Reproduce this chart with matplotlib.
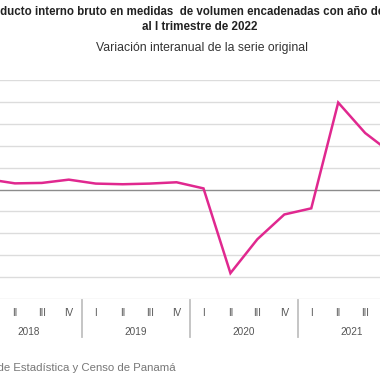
import matplotlib
matplotlib.use("Agg")
import matplotlib.pyplot as plt

plt.rcParams['font.family'] = ['Liberation Sans', 'DejaVu Sans']

# trimestres 2018 I ... 2022 I
quarters = ["I", "II", "III", "IV"] * 4 + ["I"]
years = ["2018", "2019", "2020", "2021", "2022"]
variacion = [4.7, 2.8, 3.0, 4.5, 2.7, 2.4, 2.7, 3.3, 0.5,
             -38.2, -22.7, -11.4, -8.6, 39.7, 25.8, 16.4, 13.0]
y_ticks = [-50, -40, -30, -20, -10, 0, 10, 20, 30, 40, 50]

W, H = 380, 380
fig = plt.figure(figsize=(W / 100, H / 100), dpi=100)

# plot area is wider than the picture (the reference is a crop)
left, right, top, bottom = -25.5, 432.5, 80, 299
ax = fig.add_axes([left / W, 1 - bottom / H, (right - left) / W, (bottom - top) / H])

x = list(range(len(variacion)))
ax.set_xlim(-0.5, len(variacion) - 0.5)
ax.set_ylim(-50, 50)
for t in y_ticks:
    if t == 0:
        ax.axhline(t, color="#8c8c8c", lw=1.0, zorder=2)
    else:
        ax.axhline(t, color="#dcdcdc", lw=1.0, zorder=1)
ax.plot(x, variacion, color="#e0288f", lw=1.8, zorder=3, solid_joinstyle="miter")

for s in ax.spines.values():
    s.set_visible(False)
ax.set_xticks([])
ax.set_yticks([])

tr = ax.get_xaxis_transform()
for i, q in enumerate(quarters):
    ax.text(i, -0.064, q, transform=tr, ha="center", va="center",
            fontsize=7, color="#555555", clip_on=False)
for k, yr in enumerate(years):
    start = k * 4
    end = min(start + 3, len(variacion) - 1)
    ax.text((start + end) / 2, -0.151, yr, transform=tr, ha="center", va="center",
            fontsize=7.2, color="#555555", clip_on=False)
    if k > 0:
        ax.plot([start - 0.5, start - 0.5], [-0.005, -0.174], transform=tr,
                color="#c0c0c0", lw=1.3, clip_on=False)

fig.text(-19 / W, 1 - 12 / H,
         "Producto interno bruto en medidas  de volumen encadenadas con año de referencia 2007",
         ha="left", va="center", fontsize=8.3, fontweight="bold", color="#222222")
fig.text(200 / W, 1 - 27 / H, "al I trimestre de 2022",
         ha="center", va="center", fontsize=8.4, fontweight="bold", color="#222222")
fig.text(202 / W, 1 - 48 / H, "Variación interanual de la serie original",
         ha="center", va="center", fontsize=8.8, color="#333333")
fig.text(176 / W, 1 - 368 / H, "Fuente: Instituto Nacional de Estadística y Censo de Panamá",
         ha="right", va="center", fontsize=8.2, color="#777777")

fig.savefig("out.png", dpi=100)
